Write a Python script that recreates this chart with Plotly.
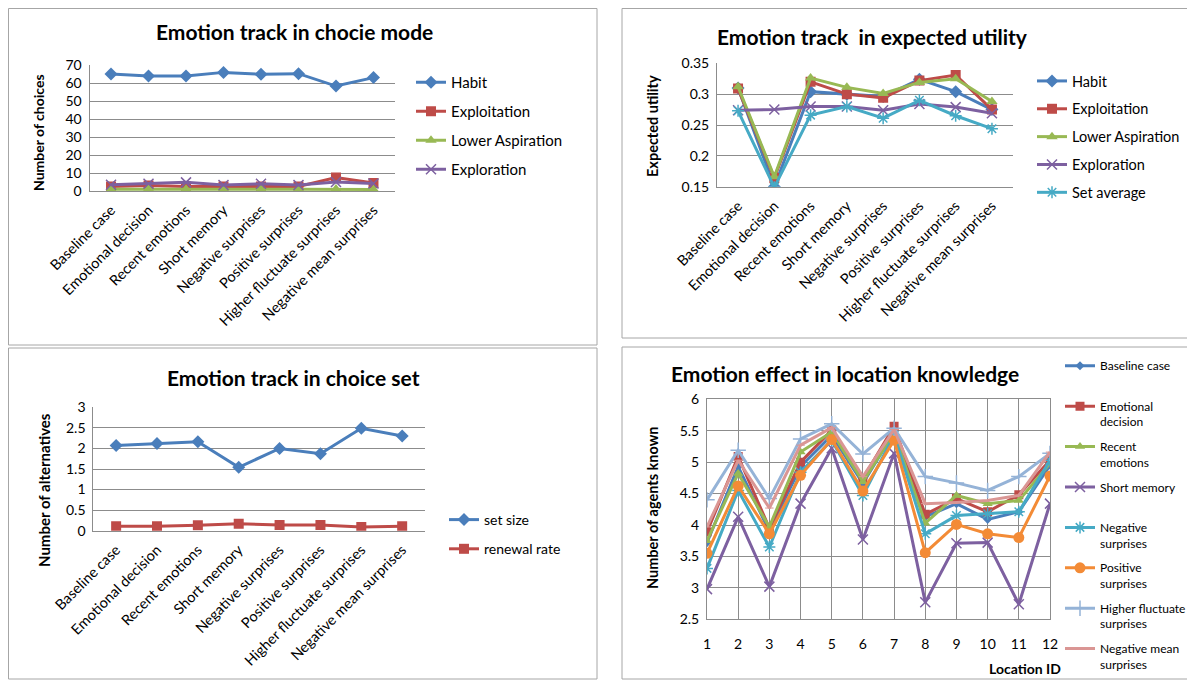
import plotly.graph_objects as go

# page body has an 8px margin, so the figure is drawn 8px in from the window edge
OFF = 8
W, H = 1195 - OFF, 680 - OFF
FONT = "Lato"

# ---------------- data ----------------
scenarios = ["Baseline case", "Emotional decision", "Recent emotions", "Short memory",
             "Negative surprises", "Positive surprises", "Higher fluctuate surprises",
             "Negative mean surprises"]

# Panel 1: choice mode
habit = [65.0, 63.9, 63.9, 65.9, 64.8, 65.2, 58.3, 63.0]
exploitation = [2.5, 3.0, 2.5, 2.5, 2.5, 2.5, 7.5, 4.5]
lower_aspiration = [1.0, 1.1, 1.0, 0.9, 1.0, 1.0, 1.1, 0.9]
exploration = [3.5, 4.0, 4.8, 3.3, 4.0, 3.3, 5.0, 4.2]

# Panel 2: expected utility
eu_habit = [0.310, 0.150, 0.304, 0.300, 0.296, 0.324, 0.304, 0.275]
eu_exploitation = [0.309, 0.164, 0.320, 0.300, 0.294, 0.322, 0.331, 0.275]
eu_lower_aspiration = [0.312, 0.166, 0.326, 0.311, 0.301, 0.319, 0.325, 0.288]
eu_exploration = [0.274, 0.275, 0.280, 0.280, 0.274, 0.284, 0.279, 0.269]
eu_set_average = [0.273, 0.149, 0.266, 0.280, 0.261, 0.290, 0.265, 0.244]

# Panel 3: choice set
set_size = [2.07, 2.12, 2.16, 1.54, 2.00, 1.87, 2.49, 2.30]
renewal_rate = [0.11, 0.11, 0.13, 0.17, 0.14, 0.14, 0.09, 0.11]

# Panel 4: location knowledge
location_ids = list(range(1, 13))
loc_baseline = [3.72, 4.93, 3.90, 4.93, 5.43, 4.66, 5.48, 4.13, 4.34, 4.09, 4.21, 4.95]
loc_emotional = [3.89, 5.09, 3.95, 5.00, 5.51, 4.74, 5.57, 4.17, 4.42, 4.21, 4.48, 5.03]
loc_recent = [3.75, 4.82, 3.97, 5.16, 5.48, 4.69, 5.46, 4.03, 4.47, 4.34, 4.39, 4.98]
loc_short_memory = [2.98, 4.13, 3.02, 4.34, 5.22, 3.77, 5.14, 2.77, 3.71, 3.72, 2.74, 4.34]
loc_negative = [3.31, 4.55, 3.65, 4.84, 5.35, 4.47, 5.43, 3.86, 4.15, 4.18, 4.21, 5.03]
loc_positive = [3.55, 4.62, 3.86, 4.79, 5.36, 4.54, 5.35, 3.56, 4.01, 3.86, 3.80, 4.78]
loc_higher_fluct = [4.40, 5.19, 4.42, 5.37, 5.61, 5.13, 5.54, 4.77, 4.67, 4.55, 4.77, 5.14]
loc_negative_mean = [3.97, 5.03, 4.27, 5.27, 5.55, 4.77, 5.52, 4.34, 4.36, 4.39, 4.47, 5.16]

# ---------------- styling ----------------
BLUE, RED, GREEN, PURPLE = "#4A7EBB", "#BE4B48", "#98B954", "#7D60A0"
CYAN, ORANGE, LBLUE, PINK = "#46AAC5", "#F38B36", "#95B3D7", "#DA9694"
GRID = "#8C8C8C"
TXT = "#000000"


def px(x):
    return (x - OFF) / W


def py(y):
    return 1 - (y - OFF) / H


fig = go.Figure()


def add(x, y, name, color, symbol, xa, ya, legend, size=9, lw=3, mlw=0, group=None):
    fig.add_trace(go.Scatter(
        x=x, y=y, name=name, mode="lines+markers",
        line=dict(color=color, width=lw),
        marker=dict(symbol=symbol, size=size, color=color,
                    line=dict(color=color, width=mlw)),
        xaxis=xa, yaxis=ya, legend=legend, legendgroup=group or name,
    ))


# panel 1
add(scenarios, habit, "Habit", BLUE, "diamond", "x", "y", "legend", size=10)
add(scenarios, exploitation, "Exploitation", RED, "square", "x", "y", "legend", size=10)
add(scenarios, lower_aspiration, "Lower Aspiration", GREEN, "triangle-up", "x", "y", "legend", size=10)
add(scenarios, exploration, "Exploration", PURPLE, "x-thin-open", "x", "y", "legend", size=10, mlw=1.5)

# panel 2
add(scenarios, eu_habit, "Habit", BLUE, "diamond", "x2", "y2", "legend2", size=10)
add(scenarios, eu_exploitation, "Exploitation", RED, "square", "x2", "y2", "legend2", size=10)
add(scenarios, eu_lower_aspiration, "Lower Aspiration", GREEN, "triangle-up", "x2", "y2", "legend2", size=10)
add(scenarios, eu_exploration, "Exploration", PURPLE, "x-thin-open", "x2", "y2", "legend2", size=10, mlw=1.5)
add(scenarios, eu_set_average, "Set average", CYAN, "asterisk-open", "x2", "y2", "legend2", size=10, mlw=1.5)

# panel 3
add(scenarios, set_size, "set size", BLUE, "diamond", "x3", "y3", "legend3", size=10)
add(scenarios, renewal_rate, "renewal rate", RED, "square", "x3", "y3", "legend3", size=10)

# panel 4
add(location_ids, loc_baseline, "Baseline case<br> ", BLUE, "diamond", "x4", "y4", "legend4", size=7)
add(location_ids, loc_emotional, "Emotional<br>decision", RED, "square", "x4", "y4", "legend4", size=9)
add(location_ids, loc_recent, "Recent<br>emotions", GREEN, "triangle-up", "x4", "y4", "legend4", size=9)
add(location_ids, loc_short_memory, "Short memory<br> ", PURPLE, "x-thin-open", "x4", "y4", "legend4", size=10, mlw=1.5)
add(location_ids, loc_negative, "Negative<br>surprises", CYAN, "asterisk-open", "x4", "y4", "legend4", size=10, mlw=1.5)
add(location_ids, loc_positive, "Positive<br>surprises", ORANGE, "circle", "x4", "y4", "legend4", size=11)
add(location_ids, loc_higher_fluct, "Higher fluctuate<br>surprises", LBLUE, "cross-thin-open", "x4", "y4", "legend4", size=11, mlw=1.5)
add(location_ids, loc_negative_mean, "Negative mean<br>surprises", PINK, "line-ew-open", "x4", "y4", "legend4", size=6, mlw=1)

cat_axis = dict(type="category", showgrid=False, showline=True, linecolor=GRID, linewidth=1,
                ticks="outside", ticklen=4, tickcolor="rgba(0,0,0,0)", tickangle=-45,
                tickfont=dict(family=FONT, size=14.5, color=TXT), zeroline=False, fixedrange=True)


def val_axis(rng, dtick, domain, anchor):
    return dict(range=rng, dtick=dtick, domain=domain, anchor=anchor, showgrid=True,
                gridcolor=GRID, gridwidth=1, showline=True, linecolor=GRID, zeroline=False,
                ticks="outside", ticklen=4, tickcolor="rgba(0,0,0,0)",
                tickfont=dict(family=FONT, size=14, color=TXT), fixedrange=True)


fig.update_layout(
    width=W, height=H, margin=dict(l=0, r=0, t=0, b=0, autoexpand=False),
    paper_bgcolor="white", plot_bgcolor="white",
    font=dict(family=FONT, color=TXT),
    xaxis=dict(cat_axis, domain=[px(89.5), px(395)], anchor="y"),
    yaxis=val_axis([0, 70], 10, [py(191), py(65)], "x"),
    xaxis2=dict(cat_axis, domain=[px(717), px(1013)], anchor="y2"),
    yaxis2=dict(val_axis([0.15, 0.35], 0.05, [py(186.7), py(63.3)], "x2"), tickformat="~g"),
    xaxis3=dict(cat_axis, domain=[px(93.3), px(425)], anchor="y3"),
    yaxis3=dict(val_axis([0, 3], 0.5, [py(530.7), py(407.3)], "x3"), tickformat="~g"),
    xaxis4=dict(range=[1, 12], dtick=1, domain=[px(707), px(1050)], anchor="y4",
                showgrid=True, gridcolor=GRID, showline=True, linecolor=GRID, mirror=True,
                zeroline=False, ticks="outside", ticklen=12, tickcolor="rgba(0,0,0,0)",
                tickfont=dict(family=FONT, size=14, color=TXT), fixedrange=True),
    yaxis4=dict(val_axis([2.5, 6], 0.5, [py(619.3), py(399.3)], "x4"), mirror=True,
                tickformat="~g"),
    showlegend=True,
)

leg_common = dict(bgcolor="rgba(0,0,0,0)", xanchor="left", yanchor="top",
                  traceorder="grouped", itemclick=False, itemdoubleclick=False)
fig.update_layout(
    legend=dict(leg_common, x=px(411), y=py(66), font=dict(family=FONT, size=15),
                tracegroupgap=6.5),
    legend2=dict(leg_common, x=px(1032), y=py(65), font=dict(family=FONT, size=14.5),
                 tracegroupgap=6),
    legend3=dict(leg_common, x=px(444), y=py(504), font=dict(family=FONT, size=14),
                 tracegroupgap=8),
    legend4=dict(leg_common, x=px(1060), y=py(351.5), font=dict(family=FONT, size=12),
                 tracegroupgap=6.2, valign="top"),
)

# panel borders
for (x0, y0, x1, y1) in [(8.5, 8.5, 597, 345), (622, 8.5, 1194, 338),
                         (8.5, 348, 597, 679), (622, 347, 1194, 679)]:
    fig.add_shape(type="rect", xref="paper", yref="paper",
                  x0=px(x0), x1=px(x1), y0=py(y0), y1=py(y1),
                  line=dict(color="#A6A6A6", width=1), layer="below")

# titles
for text, cx, cy in [("Emotion track in chocie mode", 294, 32),
                     ("Emotion track  in expected utility", 872, 37),
                     ("Emotion track in choice set", 293, 377),
                     ("Emotion effect in location knowledge", 845, 373)]:
    fig.add_annotation(text="<b>" + text + "</b>", x=px(cx), y=py(cy), xref="paper", yref="paper",
                       showarrow=False, xanchor="center", yanchor="middle",
                       font=dict(family=FONT, size=21, color=TXT))

# axis titles
for text, cx, cy, fs in [("Number of choices", 38, 133, 14),
                         ("Expected utility", 652, 126, 14.5),
                         ("Number of alternatives", 44, 490, 15),
                         ("Number of agents known", 652, 508, 14.5)]:
    fig.add_annotation(text="<b>" + text + "</b>", x=px(cx), y=py(cy), xref="paper", yref="paper",
                       showarrow=False, textangle=-90, xanchor="center", yanchor="middle",
                       font=dict(family=FONT, size=fs, color=TXT))

fig.add_annotation(text="<b>Location ID</b>", x=px(1025), y=py(668), xref="paper", yref="paper",
                   showarrow=False, xanchor="center", yanchor="middle",
                   font=dict(family=FONT, size=14, color=TXT))

fig.write_html("out.html")
